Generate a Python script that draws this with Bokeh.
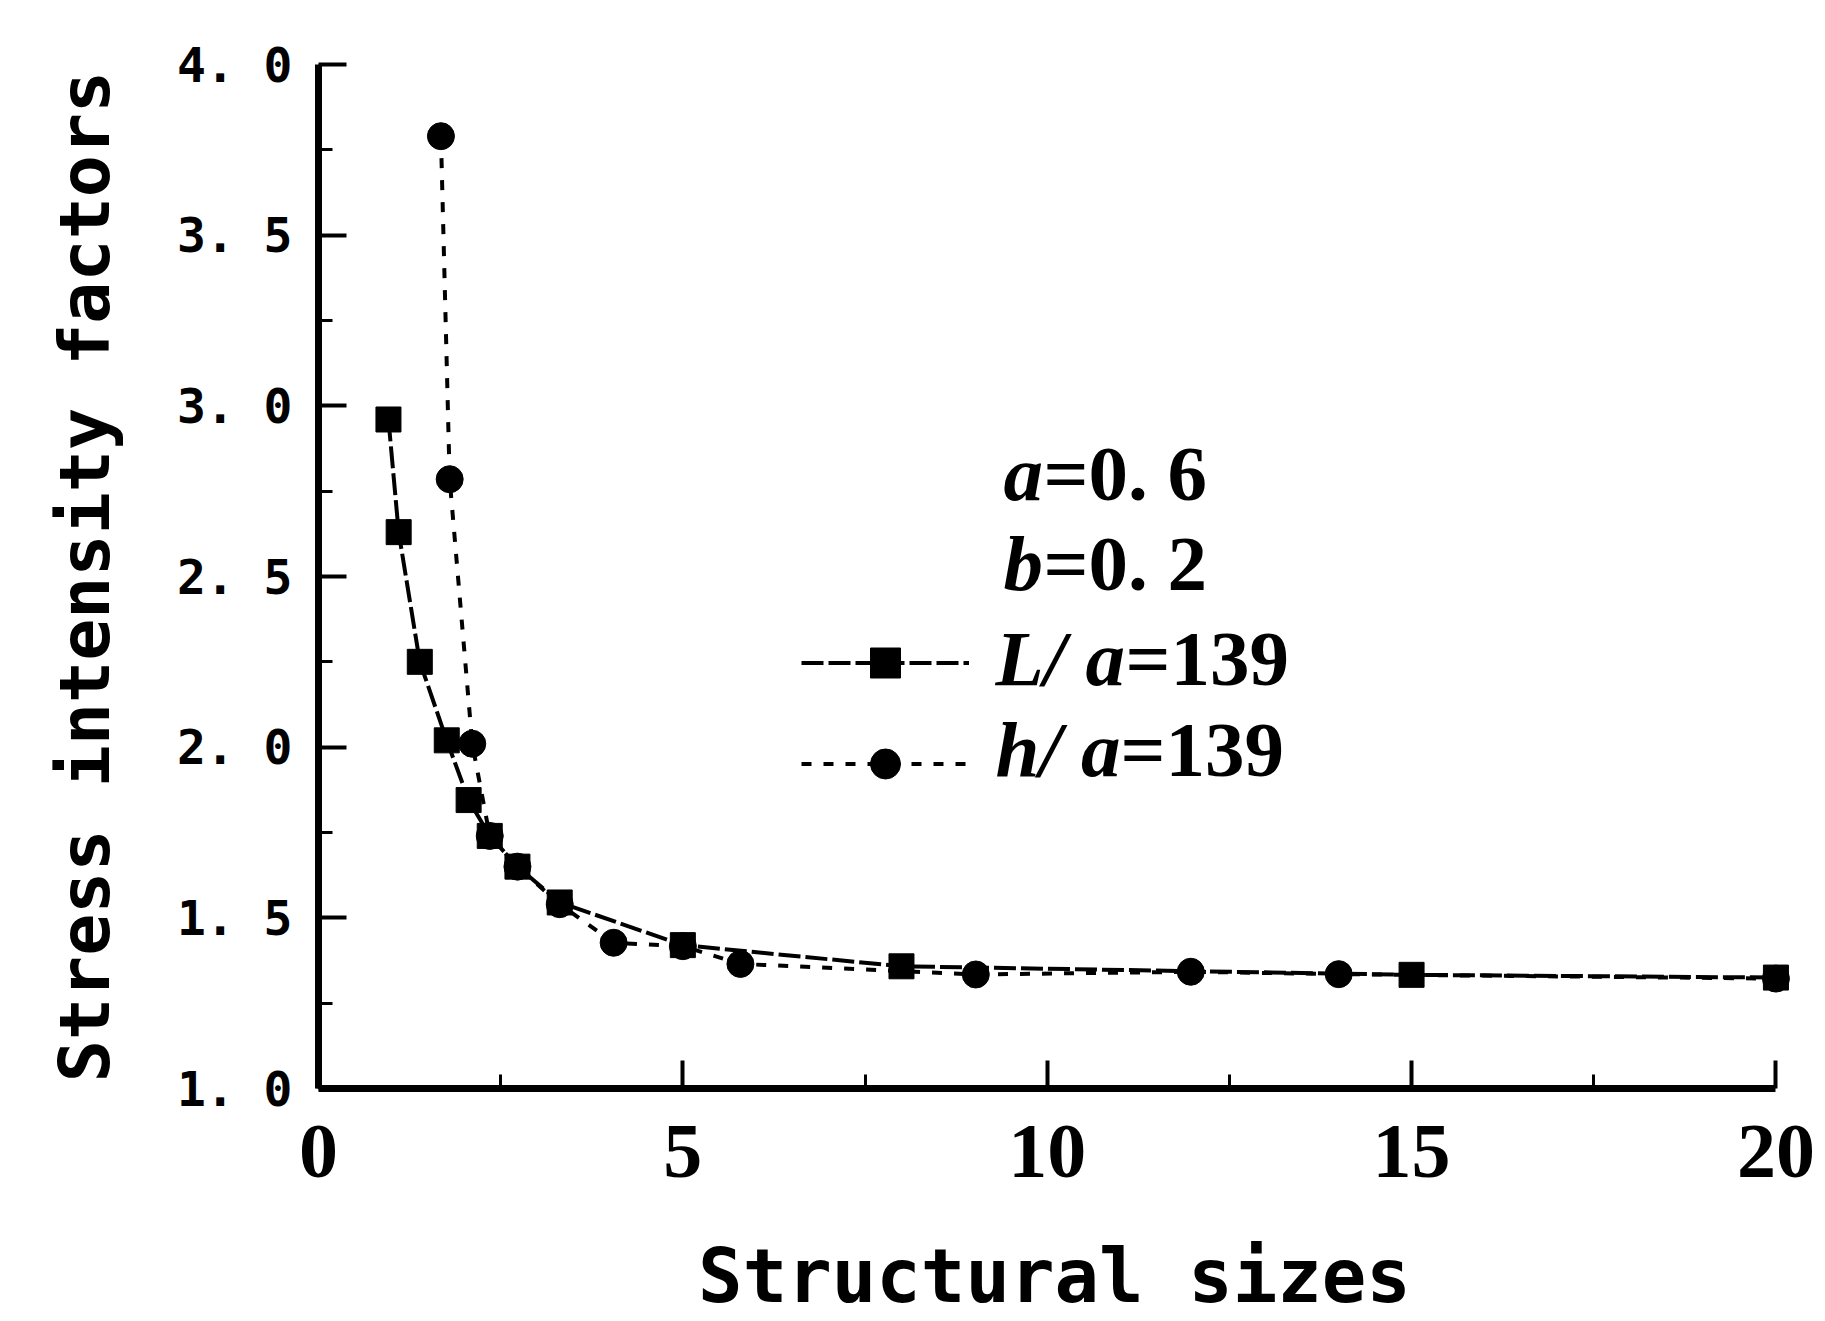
from bokeh.plotting import figure
from bokeh.models import (Range1d, FixedTicker, Legend, LegendItem, Label,
                          ColumnDataSource)
from bokeh.embed import file_html
from bokeh.resources import INLINE

# ---- data ----
la_x = [0.96, 1.10, 1.39, 1.76, 2.06, 2.35, 2.73, 3.31, 5.0, 8.0, 15.0, 20.0]
la_y = [2.96, 2.63, 2.25, 2.02, 1.845, 1.74, 1.65, 1.545, 1.42, 1.358, 1.333, 1.325]

ha_x = [1.68, 1.80, 2.11, 2.35, 2.73, 3.31, 4.05, 5.0, 5.79, 9.02, 11.97, 14.0, 20.0]
ha_y = [3.79, 2.785, 2.01, 1.74, 1.65, 1.54, 1.427, 1.417, 1.365, 1.334, 1.342, 1.335, 1.322]

x_ticks = [0, 5, 10, 15, 20]
x_minor = [2.5, 7.5, 12.5, 17.5]
y_ticks = [1.0, 1.5, 2.0, 2.5, 3.0, 3.5, 4.0]
y_minor = [1.25, 1.75, 2.25, 2.75, 3.25, 3.75]
y_tick_labels = ["1. 0", "1. 5", "2. 0", "2. 5", "3. 0", "3. 5", "4. 0"]

x_title = "Structural sizes"
y_title = "Stress intensity factors"
param_letters = ["a", "b"]
param_values = ["=0. 6", "=0. 2"]
series_names = ["L/ a", "h/ a"]
series_values = ["=139", "=139"]

# ---- figure ----
p = figure(width=1825, height=1321, output_backend="svg", toolbar_location=None,
           x_range=Range1d(0, 20.2), y_range=Range1d(1, 4),
           min_border_left=318, min_border_right=35, min_border_top=64,
           min_border_bottom=230)
p.outline_line_color = None
p.grid.visible = False
p.background_fill_color = "white"
p.border_fill_color = "white"

xa = p.xaxis[0]
xa.ticker = FixedTicker(ticks=x_ticks, minor_ticks=x_minor)
xa.bounds = (0, 20)
ya = p.yaxis[0]
ya.ticker = FixedTicker(ticks=y_ticks, minor_ticks=y_minor)
ya.major_label_overrides = {t: l for t, l in zip(y_ticks, y_tick_labels)}

for ax in (xa, ya):
    ax.axis_line_width = 7
    ax.axis_line_color = "black"
    ax.major_tick_in = 28
    ax.major_tick_out = 0
    ax.minor_tick_in = 14
    ax.minor_tick_out = 0
    ax.major_tick_line_width = 4
    ax.minor_tick_line_width = 3
    ax.major_tick_line_color = "black"
    ax.minor_tick_line_color = "black"
    ax.major_label_text_color = "black"
    ax.axis_label_text_color = "black"
    ax.axis_label_text_font = "DejaVu Sans Mono"
    ax.axis_label_text_font_style = "bold"

xa.axis_label = x_title
xa.axis_label_text_font_size = "74px"
xa.major_label_text_font = "Liberation Serif"
xa.major_label_text_font_style = "bold"
xa.major_label_text_font_size = "78px"
xa.major_label_standoff = 37
xa.axis_label_standoff = 53

ya.axis_label = y_title
ya.axis_label_text_font_size = "70px"
ya.major_label_text_font = "DejaVu Sans Mono"
ya.major_label_text_font_style = "bold"
ya.major_label_text_font_size = "48px"
ya.major_label_standoff = 26
ya.axis_label_standoff = 48

src_la = ColumnDataSource(dict(x=la_x, y=la_y))
src_ha = ColumnDataSource(dict(x=ha_x, y=ha_y))

ha_line = p.line("x", "y", source=src_ha, line_width=4, line_dash="10 12", color="black")
ha_pts = p.scatter("x", "y", source=src_ha, marker="circle", size=27, color="black")
la_line = p.line("x", "y", source=src_la, line_width=4, line_dash="22 5", color="black")
la_pts = p.scatter("x", "y", source=src_la, marker="square", size=25, color="black")

legend = Legend(items=[LegendItem(label=" ", renderers=[la_line, la_pts]),
                       LegendItem(label=" ", renderers=[ha_line, ha_pts])],
                location=(483, 287), glyph_width=168, glyph_height=75,
                label_height=20, label_text_font_size="10px", spacing=26,
                padding=0, margin=0, border_line_color=None,
                background_fill_alpha=0)
p.add_layout(legend, "center")

# legend / parameter texts
font = "Liberation Serif"
fs = "79px"
param_x = 9.4
series_x = 9.29
param_y = [2.803, 2.537]
series_y = [2.259, 1.993]
letter_w = [40, 40]
name_w = [130, 125]
for letter, val, yy, w in zip(param_letters, param_values, param_y, letter_w):
    p.add_layout(Label(x=param_x, y=yy, text=letter, text_font=font,
                       text_font_style="bold italic", text_font_size=fs,
                       text_baseline="alphabetic", text_color="black"))
    p.add_layout(Label(x=param_x, y=yy, x_offset=w, text=val, text_font=font,
                       text_font_style="bold", text_font_size=fs,
                       text_baseline="alphabetic", text_color="black"))
for name, val, yy, w in zip(series_names, series_values, series_y, name_w):
    p.add_layout(Label(x=series_x, y=yy, text=name, text_font=font,
                       text_font_style="bold italic", text_font_size=fs,
                       text_baseline="alphabetic", text_color="black"))
    p.add_layout(Label(x=series_x, y=yy, x_offset=w, text=val, text_font=font,
                       text_font_style="bold", text_font_size=fs,
                       text_baseline="alphabetic", text_color="black"))

open("out.html", "w").write(file_html(p, INLINE))
